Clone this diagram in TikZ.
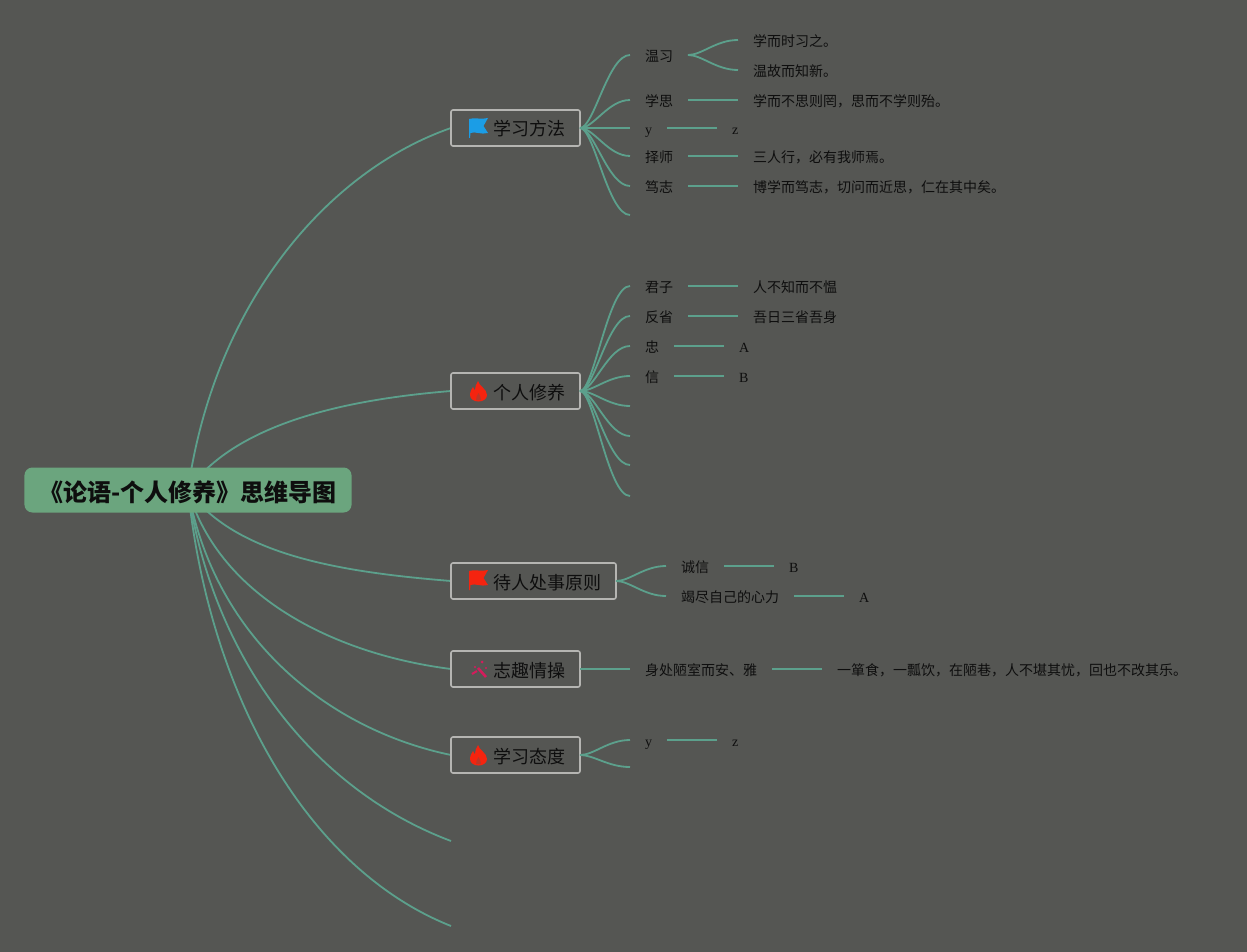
\documentclass[tikz,border=0pt]{standalone}
\usepackage{fontspec}
\setmainfont{Liberation Serif}
\newfontfamily\cjkfont[Script=CJK,Language=Chinese Simplified]{Noto Sans CJK SC}
\usetikzlibrary{%
  positioning,%
  backgrounds%
}
\definecolor{canvascol}{HTML}{555653}
\definecolor{linecol}{HTML}{5CA08C}
\definecolor{rootcol}{HTML}{6BA57E}
\definecolor{boxcol}{HTML}{B5B5B2}
\definecolor{inkcol}{HTML}{0E0E0E}
\definecolor{bluecol}{HTML}{1B9DE6}
\definecolor{redcol}{HTML}{F5240F}
\definecolor{wandcol}{HTML}{D41C5C}

\begin{document}
\begin{tikzpicture}[x=1pt,y=-1pt,node distance=50pt,
	rootnode/.style={
	rectangle,rounded corners=8pt,fill=rootcol,outer sep=0pt,
	inner xsep=15pt,inner ysep=0pt,minimum height=45pt,text=inkcol,
	text height=22pt,text depth=0pt,
	font=\fontsize{24pt}{28pt}\cjkfont\bfseries
	},topicnode/.style={
	rectangle,rounded corners=2pt,draw=boxcol,line width=1.6pt,outer sep=0pt,
	inner xsep=15pt,inner ysep=0pt,minimum height=36pt,text=inkcol,
	text height=16pt,text depth=0pt,anchor=west,
	font=\fontsize{18pt}{22pt}\cjkfont,
	execute at begin node=\hspace*{27pt}
	},subnode/.style={
	rectangle,inner xsep=15pt,inner ysep=0pt,outer sep=0pt,text=inkcol,
	text height=13pt,text depth=0pt,anchor=west,
	font=\fontsize{14pt}{16pt}\cjkfont
	},latinnode/.style={
	subnode,font=\fontsize{14pt}{16pt}\selectfont
	},link/.style={
	line width=1.8pt,draw=linecol
	},fork/.style={
	to path={.. controls +(14,0) and +(-22,0) .. (\tikztotarget)}
	},flagicon/.pic={
	\fill[pic actions] (0,1) .. controls (6,-1) and (12,2) .. (19,0) -- (14.5,8) -- (19,15)
		.. controls (12,17) and (6,13) .. (1.5,15) -- (1,20) -- (0,20) -- cycle;
	},flameicon/.pic={
	\fill[pic actions] (9,0) .. controls (10,5) and (18,8) .. (18,14)
		.. controls (18,18) and (14,20.5) .. (9.5,20.5) .. controls (5,20.5) and (1,18) .. (1,14)
		.. controls (1,10) and (3,8) .. (4,6) .. controls (5,8) and (5.5,9) .. (6,9)
		.. controls (6,6) and (7,3) .. (9,0) -- cycle;
	\fill[redcol!65!canvascol] (9.5,12) .. controls (10,15) and (13,16) .. (12,19)
		-- (7,19) .. controls (6,16) and (9,15) .. (9.5,12) -- cycle;
	},wandicon/.pic={
	\draw[draw=wandcol,line width=2.6pt] (9,8) -- (17,17);
	\draw[draw=wandcol,line width=2pt] (3,14) -- (8,11);
	\fill[wandcol] (13,2) circle (1.5);
	\fill[wandcol] (6,7) circle (1.1);
	\fill[wandcol] (17,8) circle (1.1);
	}
]

\useasboundingbox (0,0) rectangle (1247,952);

\node (root) [rootnode] at (188,490) {《论语-个人修养》思维导图};

% first level
\node (method) [topicnode] at (451,128) {学习方法};
\node (virtue) [topicnode] at (451,391) {个人修养};
\node (conduct) [topicnode] at (451,581) {待人处事原则};
\node (ideal) [topicnode] at (451,669) {志趣情操};
\node (attitude) [topicnode] at (451,755) {学习态度};
\coordinate (freeA) at (451,841);
\coordinate (freeB) at (451,926);

\pic[fill=bluecol] at (469,118) {flagicon};
\pic[fill=redcol] at (469,381) {flameicon};
\pic[fill=redcol] at (469,570) {flagicon};
\pic at (469,660) {wandicon};
\pic[fill=redcol] at (469,745) {flameicon};

% method
\node (review) [subnode] at (630,55) {温习};
\node (think) [subnode] at (630,100) {学思};
\node (ya) [latinnode] at (630,128) {y};
\node (teacher) [subnode] at (630,156) {择师};
\node (will) [subnode] at (630,186) {笃志};
\coordinate (methodend) at (630,215);
\node (reviewA) [subnode,right=of review,yshift=15pt] {学而时习之。};
\node (reviewB) [subnode,right=of review,yshift=-15pt] {温故而知新。};
\node (thinkA) [subnode,right=of think] {学而不思则罔，思而不学则殆。};
\node (za) [latinnode,right=of ya] {z};
\node (teacherA) [subnode,right=of teacher] {三人行，必有我师焉。};
\node (willA) [subnode,right=of will] {博学而笃志，切问而近思，仁在其中矣。};

% virtue
\node (noble) [subnode] at (630,286) {君子};
\node (reflect) [subnode] at (630,316) {反省};
\node (loyal) [subnode] at (630,346) {忠};
\node (trust) [subnode] at (630,376) {信};
\coordinate (virtueA) at (630,406);
\coordinate (virtueB) at (630,436);
\coordinate (virtueC) at (630,465);
\coordinate (virtueD) at (630,496);
\node (nobleA) [subnode,right=of noble] {人不知而不愠};
\node (reflectA) [subnode,right=of reflect] {吾日三省吾身};
\node (loyalA) [latinnode,right=of loyal] {A};
\node (trustB) [latinnode,right=of trust] {B};

% conduct
\node (honest) [subnode] at (666,566) {诚信};
\node (effort) [subnode] at (666,596) {竭尽自己的心力};
\node (honestB) [latinnode,right=of honest] {B};
\node (effortA) [latinnode,right=of effort] {A};

% ideal
\node (poor) [subnode] at (630,669) {身处陋室而安、雅};
\node (poorA) [subnode,right=of poor] {一箪食，一瓢饮，在陋巷，人不堪其忧，回也不改其乐。};

% attitude
\node (yb) [latinnode] at (630,740) {y};
\coordinate (attitudeend) at (630,767);
\node (zb) [latinnode,right=of yb] {z};

\begin{pgfonlayer}{background}
\fill[canvascol] (0,0) rectangle (1247,952);
\draw[link] (root.center) .. controls (215,300) and (330,170) .. (method.west);
\draw[link] (root.center) .. controls (235,425) and (340,400) .. (virtue.west);
\draw[link] (root.center) .. controls (235,555) and (340,572) .. (conduct.west);
\draw[link] (root.center) .. controls (220,600) and (340,655) .. (ideal.west);
\draw[link] (root.center) .. controls (215,640) and (330,730) .. (attitude.west);
\draw[link] (root.center) .. controls (213,660) and (315,790) .. (freeA);
\draw[link] (root.center) .. controls (210,700) and (310,870) .. (freeB);
\end{pgfonlayer}

\draw[link] (method.east) to[fork] (review.west);
\draw[link] (method.east) to[fork] (think.west);
\draw[link] (method.east) -- (ya.west);
\draw[link] (method.east) to[fork] (teacher.west);
\draw[link] (method.east) to[fork] (will.west);
\draw[link] (method.east) to[fork] (methodend);
\draw[link] (review.east) to[fork] (reviewA.west);
\draw[link] (review.east) to[fork] (reviewB.west);
\draw[link] (think.east) -- (thinkA.west);
\draw[link] (ya.east) -- (za.west);
\draw[link] (teacher.east) -- (teacherA.west);
\draw[link] (will.east) -- (willA.west);

\draw[link] (virtue.east) to[fork] (noble.west);
\draw[link] (virtue.east) to[fork] (reflect.west);
\draw[link] (virtue.east) to[fork] (loyal.west);
\draw[link] (virtue.east) to[fork] (trust.west);
\draw[link] (virtue.east) to[fork] (virtueA);
\draw[link] (virtue.east) to[fork] (virtueB);
\draw[link] (virtue.east) to[fork] (virtueC);
\draw[link] (virtue.east) to[fork] (virtueD);
\draw[link] (noble.east) -- (nobleA.west);
\draw[link] (reflect.east) -- (reflectA.west);
\draw[link] (loyal.east) -- (loyalA.west);
\draw[link] (trust.east) -- (trustB.west);

\draw[link] (conduct.east) to[fork] (honest.west);
\draw[link] (conduct.east) to[fork] (effort.west);
\draw[link] (honest.east) -- (honestB.west);
\draw[link] (effort.east) -- (effortA.west);

\draw[link] (ideal.east) -- (poor.west);
\draw[link] (poor.east) -- (poorA.west);

\draw[link] (attitude.east) to[fork] (yb.west);
\draw[link] (attitude.east) to[fork] (attitudeend);
\draw[link] (yb.east) -- (zb.west);

\end{tikzpicture}
\end{document}
